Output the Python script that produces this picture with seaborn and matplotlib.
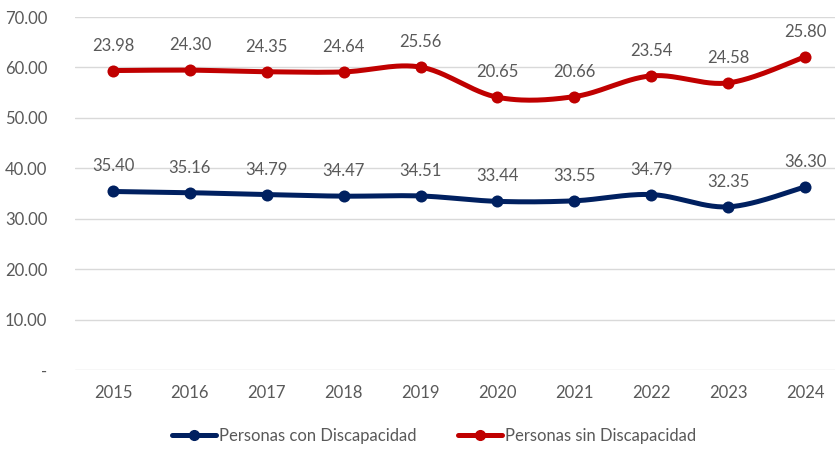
import numpy as np
import pandas as pd
import matplotlib
matplotlib.use("Agg")
import matplotlib.pyplot as plt
from matplotlib.lines import Line2D
import seaborn as sns

years = ["2015", "2016", "2017", "2018", "2019", "2020", "2021", "2022", "2023", "2024"]
con_disc = [35.40, 35.16, 34.79, 34.47, 34.51, 33.44, 33.55, 34.79, 32.35, 36.30]
sin_disc = [23.98, 24.30, 24.35, 24.64, 25.56, 20.65, 20.66, 23.54, 24.58, 25.80]

blue = "#002060"
red = "#C00000"
txt = "#595959"

sns.set_theme(style="white")
plt.rcParams['font.family'] = ['Lato', 'DejaVu Sans']


def smooth(x, y, n=30):
    # excel-like smoothed line (catmull-rom bezier)
    x = np.asarray(x, float)
    y = np.asarray(y, float)
    px = np.concatenate([[x[0]], x, [x[-1]]])
    py = np.concatenate([[y[0]], y, [y[-1]]])
    xs, ys = [], []
    t = np.linspace(0, 1, n)
    for i in range(1, len(px) - 2):
        p0 = np.array([px[i - 1], py[i - 1]])
        p1 = np.array([px[i], py[i]])
        p2 = np.array([px[i + 1], py[i + 1]])
        p3 = np.array([px[i + 2], py[i + 2]])
        c1 = p1 + (p2 - p0) / 6
        c2 = p2 - (p3 - p1) / 6
        b = (np.outer((1 - t) ** 3, p1) + np.outer(3 * (1 - t) ** 2 * t, c1)
             + np.outer(3 * (1 - t) * t ** 2, c2) + np.outer(t ** 3, p2))
        xs.extend(b[:, 0])
        ys.extend(b[:, 1])
    return np.array(xs), np.array(ys)


df = pd.DataFrame({"year": years, "con": con_disc, "sin": sin_disc})
df["pos"] = np.arange(len(df))
df["sin_stack"] = df["con"] + df["sin"]

fig = plt.figure(figsize=(8.35, 4.49), dpi=100)
ax = fig.add_axes([75 / 835, 1 - 370 / 449, 760 / 835, 353 / 449])

for col, c in [("con", blue), ("sin_stack", red)]:
    sx, sy = smooth(df["pos"], df[col])
    sns.lineplot(x=sx, y=sy, sort=False, color=c, linewidth=3.6, ax=ax,
                 solid_capstyle="round")
    sns.scatterplot(x=df["pos"], y=df[col], color=c, s=75, edgecolor=c,
                    linewidth=0, ax=ax, zorder=5)

for i, r in df.iterrows():
    ax.annotate(f"{r['con']:.2f}", (r["pos"], r["con"]), xytext=(0, 18),
                textcoords="offset points", ha="center", va="center",
                fontsize=12, color=txt)
    ax.annotate(f"{r['sin']:.2f}", (r["pos"], r["sin_stack"]), xytext=(0, 18),
                textcoords="offset points", ha="center", va="center",
                fontsize=12, color=txt)

ax.set_xlim(-0.494, 9.39)
ax.set_ylim(0, 70)
ax.set_xticks(df["pos"])
ax.set_xticklabels(years)
ax.set_yticks(np.arange(0, 71, 10))
ax.set_yticklabels(["-"] + [f"{v:.2f}" for v in np.arange(10, 71, 10)])
ax.tick_params(axis="y", length=0, pad=20, labelsize=12, labelcolor=txt)
ax.tick_params(axis="x", length=0, pad=11, labelsize=12, labelcolor=txt)
ax.yaxis.grid(True, color="#d9d9d9", linewidth=1)
ax.set_axisbelow(True)
for s in ax.spines.values():
    s.set_visible(False)
ax.set_xlabel("")
ax.set_ylabel("")

handles = [Line2D([0], [0], color=blue, lw=3.6, marker="o", markersize=7),
           Line2D([0], [0], color=red, lw=3.6, marker="o", markersize=7)]
fig.legend(handles, ["Personas con Discapacidad", "Personas sin Discapacidad"],
           loc="center", bbox_to_anchor=(0.52, 1 - 436 / 449), ncol=2,
           frameon=False, fontsize=12, labelcolor=txt, handlelength=2.6,
           handletextpad=0.2, columnspacing=2.5)

fig.savefig("out.png", dpi=100)
